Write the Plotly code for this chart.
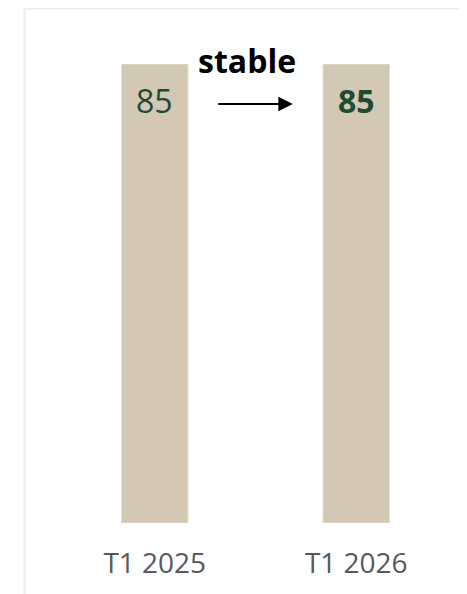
import plotly.graph_objects as go

periods = ["T1 2025", "T1 2026"]
scores = [85, 85]
score_labels = ["85", "<b>85</b>"]
trend_label = "stable"

BAR = "#d3c8b3"
GREEN = "#1f4a33"
GREY = "#595959"
FRAME = "#efebe0"

fig = go.Figure(
    go.Bar(
        x=periods,
        y=scores,
        marker=dict(color=BAR, line=dict(color="#e4ddd0", width=1)),
        width=0.33,
        hoverinfo="none",
    )
)

# value labels inside the top of each bar
for p, v, t in zip(periods, scores, score_labels):
    fig.add_annotation(
        x=p, y=v, text=t, showarrow=False, yanchor="middle", yshift=-36,
        font=dict(size=32, color=GREEN, family="Open Sans"),
    )

# trend arrow and caption between the bars
fig.add_annotation(
    x=0.5925, y=0.9129, xref="paper", yref="paper",
    ax=-76, ay=0, text="", showarrow=True,
    arrowhead=2, arrowsize=1.6, arrowwidth=1.8, arrowcolor="black",
)
fig.add_annotation(
    x=0.4795, y=1.0087, xref="paper", yref="paper", text="<b>" + trend_label + "</b>",
    showarrow=False, yanchor="middle",
    font=dict(size=32, color="black", family="Open Sans"),
)

# light frame lines (top and left)
fig.add_shape(type="line", xref="paper", yref="paper", x0=-0.0732, x1=1.2,
              y0=1.1209, y1=1.1209, line=dict(color=FRAME, width=2))
fig.add_shape(type="line", xref="paper", yref="paper", x0=-0.0732, x1=-0.0732,
              y0=1.1209, y1=-0.3, line=dict(color=FRAME, width=2))

fig.update_layout(
    width=467,
    height=594,
    margin=dict(l=46, r=18, t=56, b=79),
    paper_bgcolor="white",
    plot_bgcolor="white",
    showlegend=False,
    font=dict(family="Open Sans"),
    xaxis=dict(
        showgrid=False, zeroline=False, showline=False, ticks="",
        tickfont=dict(size=28, color=GREY), ticklabelstandoff=21,
    ),
    yaxis=dict(range=[0, 85], visible=False),
)

fig.write_html("out.html")
